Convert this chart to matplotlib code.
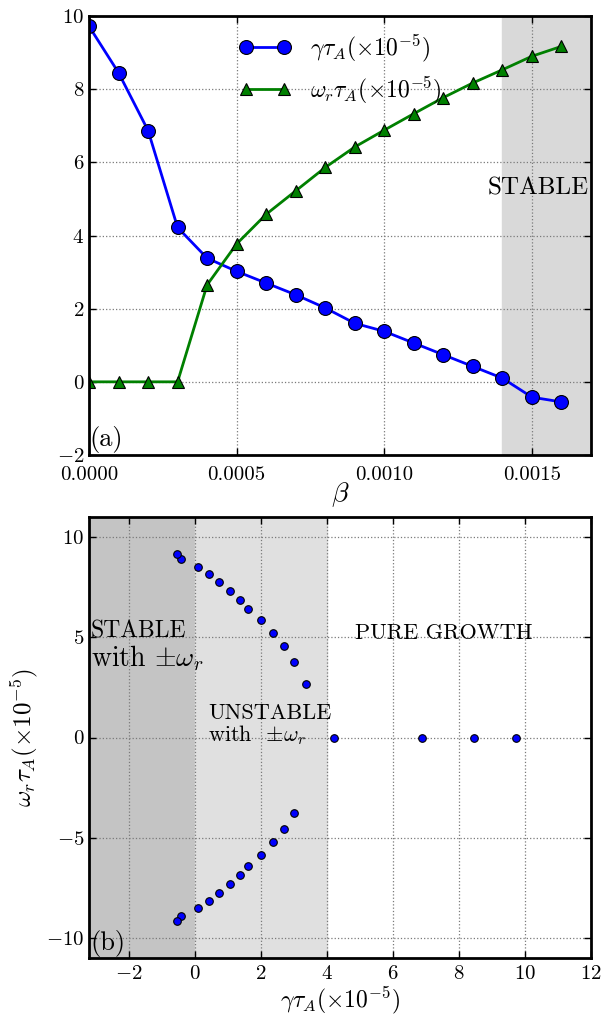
import numpy as np
import matplotlib
matplotlib.use("Agg")
import matplotlib.pyplot as plt

plt.rcParams["font.family"] = "serif"
plt.rcParams["font.serif"] = ["cmr10"]
plt.rcParams["mathtext.fontset"] = "cm"
plt.rcParams["axes.formatter.use_mathtext"] = True
plt.rcParams["axes.unicode_minus"] = True

# growth rate and real frequency vs beta (both in units of 1e-5 / tau_A)
beta = [0.0, 0.0001, 0.0002, 0.0003, 0.0004, 0.0005, 0.0006, 0.0007, 0.0008,
        0.0009, 0.0010, 0.0011, 0.0012, 0.0013, 0.0014, 0.0015, 0.0016]
gamma = [9.72, 8.45, 6.87, 4.22, 3.38, 3.02, 2.70, 2.38, 2.02,
         1.60, 1.38, 1.06, 0.74, 0.42, 0.10, -0.42, -0.55]
omega = [0.0, 0.0, 0.0, 0.0, 2.65, 3.77, 4.58, 5.22, 5.86,
         6.42, 6.88, 7.33, 7.77, 8.17, 8.53, 8.90, 9.17]

lab_g = r"$\gamma\tau_A(\times10^{-5})$"
lab_w = r"$\omega_r\tau_A(\times10^{-5})$"

fig = plt.figure(figsize=(6.03, 10.17), dpi=100)
ax1 = fig.add_axes([89/603, 1 - 455/1017, 502/603, 439/1017])
ax2 = fig.add_axes([89/603, 1 - 958/1017, 502/603, 441/1017])

for ax in (ax1, ax2):
    ax.grid(True, color="#7a7a7a", linestyle=":", linewidth=0.9)
    ax.set_axisbelow(True)
    ax.tick_params(direction="in", top=True, right=True, labelsize=15,
                   length=5, width=1)
    for s in ax.spines.values():
        s.set_linewidth(2)
ax1.tick_params(axis="x", pad=8)
ax2.tick_params(axis="x", pad=5)

# (a) growth rate / frequency vs beta
ax1.axvspan(0.0014, 0.0017, color="#d9d9d9", zorder=0)
ax1.plot(beta, gamma, "-o", color="blue", lw=2, ms=10, mec="black",
         mew=0.8, label=lab_g)
ax1.plot(beta, omega, "-^", color="green", lw=2, ms=9, mec="black",
         mew=0.8, label=lab_w)
ax1.set_xlim(0, 0.0017)
ax1.set_ylim(-2, 10)
ax1.set_xticks([0.0, 0.0005, 0.0010, 0.0015])
ax1.set_xticklabels(["0.0000", "0.0005", "0.0010", "0.0015"])
ax1.set_xlabel(r"$\beta$", fontsize=20, labelpad=-3)
ax1.legend(loc="upper center", bbox_to_anchor=(0.50, 1.01), frameon=False,
           fontsize=17, numpoints=2, handlelength=2.2, handletextpad=0.8,
           labelspacing=0.45)
ax1.text(0.995, 5.3, "STABLE", ha="right", va="center", fontsize=18,
         transform=ax1.get_yaxis_transform())
ax1.text(0.0, -1.95, "(a)", ha="left", va="bottom", fontsize=19)

# (b) eigenvalues in the complex plane
g = np.array(gamma)
w = np.array(omega)
ax2.axvspan(-3.2, 0, color="#c4c4c4", zorder=0)
ax2.axvspan(0, 4, color="#e0e0e0", zorder=0)
ax2.scatter(g, w, s=30, color="blue", edgecolors="black", linewidths=0.8,
            zorder=3)
neg = w > 3.0
ax2.scatter(g[neg], -w[neg], s=30, color="blue", edgecolors="black",
            linewidths=0.8, zorder=3)
ax2.set_xlim(-3.2, 12)
ax2.set_ylim(-11, 11)
ax2.set_xticks([-2, 0, 2, 4, 6, 8, 10, 12])
ax2.set_yticks([-10, -5, 0, 5, 10])
ax2.set_xlabel(lab_g, fontsize=17, labelpad=1)
ax2.set_ylabel(lab_w, fontsize=18)
ax2.text(-3.15, 4.75, "STABLE", ha="left", va="bottom", fontsize=17)
ax2.text(-3.15, 4.7, "with $\\pm\\omega_r$", ha="left", va="top",
         fontsize=20)
ax2.text(0.4, -0.45, "UNSTABLE\nwith  $\\pm\\omega_r$", ha="left",
         va="bottom", fontsize=16, linespacing=1.0)
ax2.text(7.55, 4.7, "PURE GROWTH", ha="center", va="bottom", fontsize=16)
ax2.text(-3.15, -10.95, "(b)", ha="left", va="bottom", fontsize=19)

fig.savefig("out.png", dpi=100)
